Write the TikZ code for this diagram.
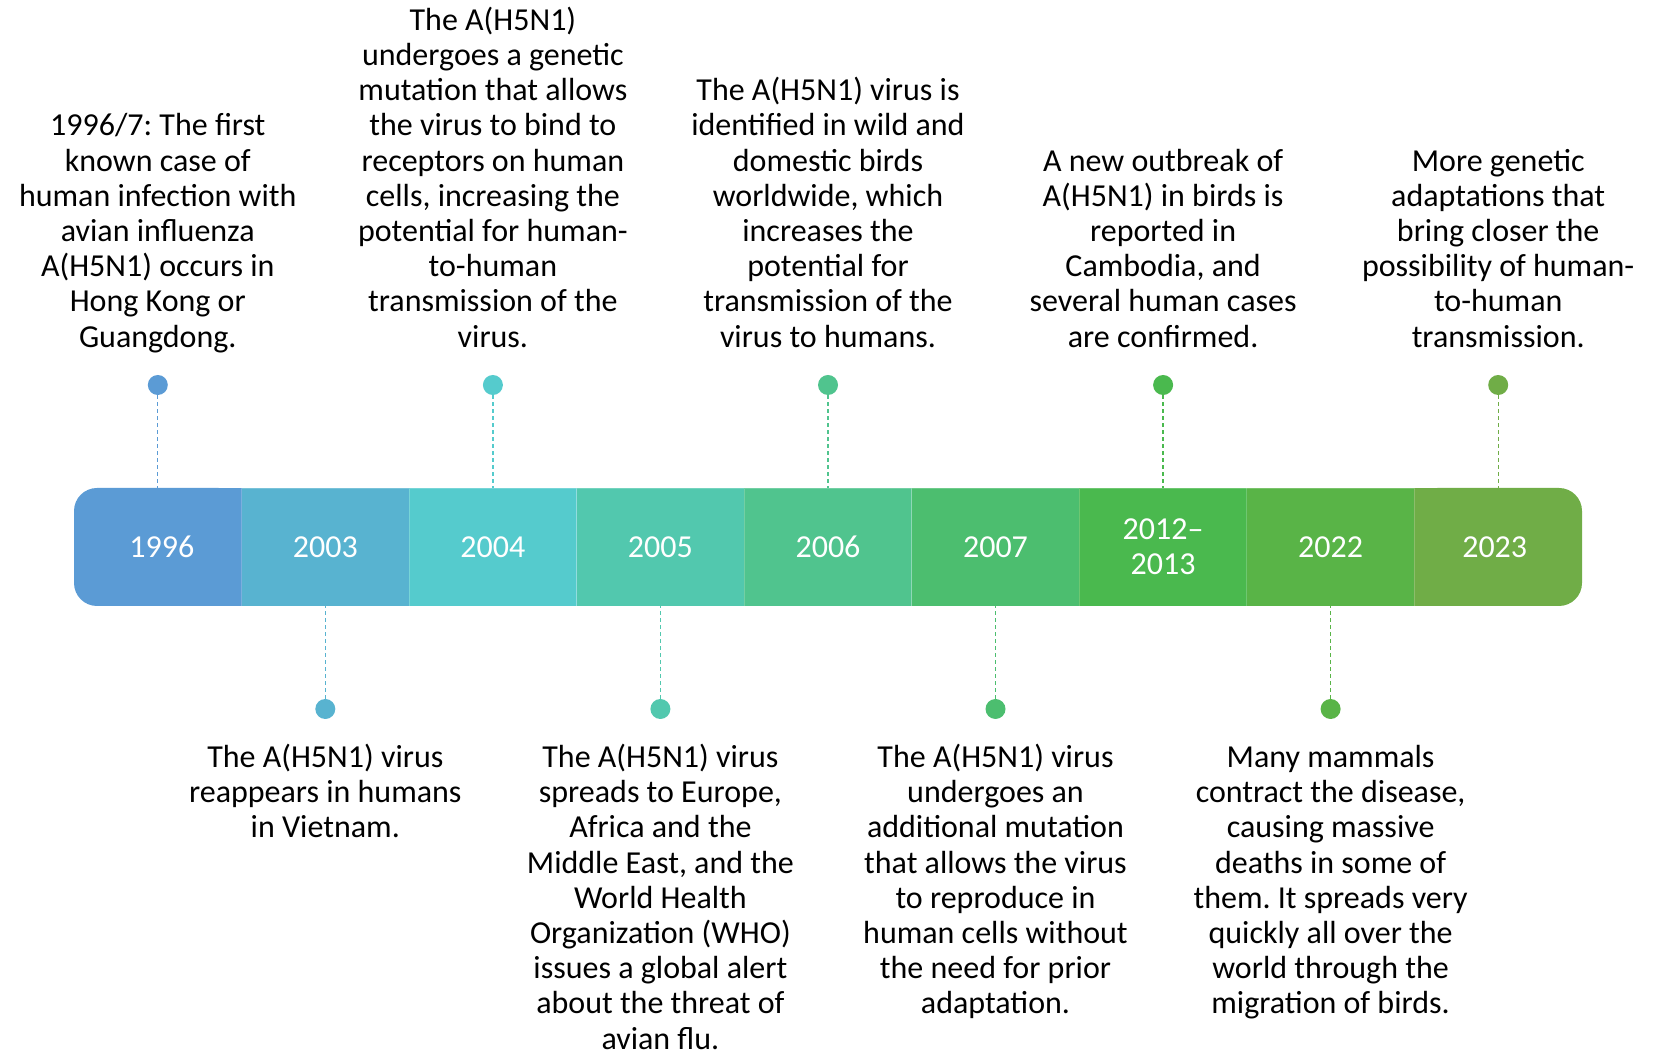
\documentclass[tikz,border=0pt]{standalone}
\usepackage{fontspec}
\setmainfont{Carlito}
\frenchspacing
\newcommand\tlfont{\fontsize{16pt}{17.6pt}\selectfont}
\definecolor{c1996}{HTML}{5B9BD5}
\definecolor{c2003}{HTML}{58B3D0}
\definecolor{c2004}{HTML}{55CBCD}
\definecolor{c2005}{HTML}{52C8AE}
\definecolor{c2006}{HTML}{50C48E}
\definecolor{c2007}{HTML}{4CBE6F}
\definecolor{c2012}{HTML}{4AB94E}
\definecolor{c2022}{HTML}{59B447}
\definecolor{c2023}{HTML}{70AD47}
\begin{document}
\begin{tikzpicture}[x=0.5pt,y=-0.5pt,
  yr/.style={minimum width=83.8pt, minimum height=59pt, inner sep=0pt,
    text=white, align=center, font=\tlfont},
  seg/.style={yr, fill=#1, draw=white, draw opacity=0.2, line width=0.4pt},
  dot/.style={circle, fill=#1, minimum size=10pt, inner sep=0pt},
  tick/.style={draw=#1, dash pattern=on 2pt off 1.5pt, line width=0.65pt},
  upper/.style={anchor=south, align=center, inner sep=0pt, font=\tlfont},
  lower/.style={anchor=north, align=center, inner sep=0pt, font=\tlfont}]
\useasboundingbox (0,0) rectangle (1661,1052);

% rounded ends of the bar
\fill[c1996, rounded corners=11.5pt] (74,488) rectangle (241.55,606);
\fill[c1996] (160,488) rectangle (241.55,606);
\fill[c2023, rounded corners=11.5pt] (1414.45,488) rectangle (1582,606);
\fill[c2023] (1414.45,488) rectangle (1500,606);

% year segments
\node[yr] (y1996) at (157.8,547) {\hspace*{4pt}1996};
\node[seg=c2003] (y2003) at (325.3,547) {2003};
\node[seg=c2004] (y2004) at (492.9,547) {2004};
\node[seg=c2005] (y2005) at (660.4,547) {2005};
\node[seg=c2006] (y2006) at (828.0,547) {2006};
\node[seg=c2007] (y2007) at (995.5,547) {2007};
\node[seg=c2012] (y2012) at (1163.1,547) {2012--\\2013};
\node[seg=c2022] (y2022) at (1330.6,547) {2022};
\node[yr] (y2023) at (1498.2,547) {2023\hspace*{3.5pt}};

% markers above the bar
\node[dot=c1996] (d1996) at (157.8,385) {};
\node[dot=c2004] (d2004) at (492.9,385) {};
\node[dot=c2006] (d2006) at (828.0,385) {};
\node[dot=c2012] (d2012) at (1163.1,385) {};
\node[dot=c2023] (d2023) at (1498.2,385) {};
% markers below the bar
\node[dot=c2003] (d2003) at (325.3,709) {};
\node[dot=c2005] (d2005) at (660.4,709) {};
\node[dot=c2007] (d2007) at (995.5,709) {};
\node[dot=c2022] (d2022) at (1330.6,709) {};

% dashed leaders
\draw[tick=c1996] (d1996.south) -- (d1996.south |- y1996.north);
\draw[tick=c2004] (d2004.south) -- (d2004.south |- y2004.north);
\draw[tick=c2006] (d2006.south) -- (d2006.south |- y2006.north);
\draw[tick=c2012] (d2012.south) -- (d2012.south |- y2012.north);
\draw[tick=c2023] (d2023.south) -- (d2023.south |- y2023.north);
\draw[tick=c2003] (d2003.north) -- (d2003.north |- y2003.south);
\draw[tick=c2005] (d2005.north) -- (d2005.north |- y2005.south);
\draw[tick=c2007] (d2007.north) -- (d2007.north |- y2007.south);
\draw[tick=c2022] (d2022.north) -- (d2022.north |- y2022.south);

% event descriptions
\node[upper] (t1996) at (157.8,358) {\strut 1996/7: The first\\known case of\\human infection with\\avian influenza\\A(H5N1) occurs in\\Hong Kong or\\\strut Guangdong.};
\node[upper] (t2004) at (492.9,358) {\strut The A(H5N1)\\undergoes a genetic\\mutation that allows\\the virus to bind to\\receptors on human\\cells, increasing the\\potential for human-\\to-human\\transmission of the\\\strut virus.};
\node[upper] (t2006) at (828.0,358) {\strut The A(H5N1) virus is\\identified in wild and\\domestic birds\\worldwide, which\\increases the\\potential for\\transmission of the\\\strut virus to humans.};
\node[upper] (t2012) at (1163.1,358) {\strut A new outbreak of\\A(H5N1) in birds is\\reported in\\Cambodia, and\\several human cases\\\strut are confirmed.};
\node[upper] (t2023) at (1498.2,358) {\strut More genetic\\adaptations that\\bring closer the\\possibility of human-\\to-human\\\strut transmission.};

\node[lower] (t2003) at (325.3,742.5) {\strut The A(H5N1) virus\\reappears in humans\\\strut in Vietnam.};
\node[lower] (t2005) at (660.4,742.5) {\strut The A(H5N1) virus\\spreads to Europe,\\Africa and the\\Middle East, and the\\World Health\\Organization (WHO)\\issues a global alert\\about the threat of\\\strut avian flu.};
\node[lower] (t2007) at (995.5,742.5) {\strut The A(H5N1) virus\\undergoes an\\additional mutation\\that allows the virus\\to reproduce in\\human cells without\\the need for prior\\\strut adaptation.};
\node[lower] (t2022) at (1330.6,742.5) {\strut Many mammals\\contract the disease,\\causing massive\\deaths in some of\\them. It spreads very\\quickly all over the\\world through the\\\strut migration of birds.};
\end{tikzpicture}
\end{document}
